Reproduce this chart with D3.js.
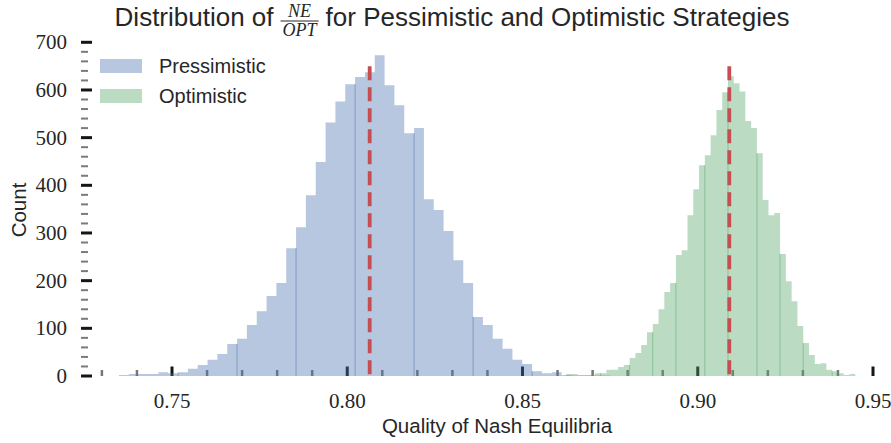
<!DOCTYPE html>
<html>
<head>
<meta charset="utf-8">
<script src="https://cdn.jsdelivr.net/npm/d3@7"></script>
<style>
  body { margin: 0; background: #fff; }
  svg { display: block; }
</style>
</head>
<body>
<svg id="chart"></svg>
<script>
// Histogram counts (50 bins each)
const pessCounts = [2, 4, 4, 4, 8, 6, 8, 15, 23, 34, 46, 67, 78, 107, 136, 168, 195, 268, 312, 379,
  449, 532, 576, 612, 627, 637, 673, 610, 568, 509, 520, 371, 348, 304, 243, 195, 124, 107, 78, 57,
  34, 25, 10, 6, 8, 2, 1, 1, 1, 1];
const optCounts = [4, 4, 2, 2, 2, 6, 6, 13, 13, 19, 23, 38, 48, 65, 92, 109, 140, 176, 195, 254,
  264, 337, 392, 442, 463, 505, 558, 595, 629, 614, 597, 535, 520, 467, 369, 337, 342, 256, 199, 157,
  105, 69, 44, 25, 27, 13, 10, 6, 2, 4];

// Bin edges
const pessBinStart = 0.73489, pessBinWidth = 0.002806;
const optBinStart = 0.8624, optBinWidth = 0.001651;

// Mean markers
const meanValues = [0.8064, 0.909];
const meanLineTop = 650;

// Tick values and labels
const xMajorTicks = [0.75, 0.80, 0.85, 0.90, 0.95];
const xTickLabels = ["0.75", "0.80", "0.85", "0.90", "0.95"];
const yMajorTicks = [0, 100, 200, 300, 400, 500, 600, 700];
const seriesNames = ["Pressimistic", "Optimistic"];

// bin edges where faint seam lines show in the bars
const pessSeams = [6, 12, 18, 24, 30, 36, 42];
const optSeams = [6, 11, 15, 19, 24, 28, 33, 37, 41, 46];

const width = 891, height = 443;
const blue = "#4c72b0", green = "#55a868", red = "#c44e52", ink = "#262626";

const svg = d3.select("#chart").attr("width", width).attr("height", height);

const x = d3.scaleLinear().domain([0.75, 0.95]).range([172, 873]);
const y = d3.scaleLinear().domain([0, 700]).range([376, 42.3]);

// Minor ticks (every 0.01 on x, every 20 on y)
const xMinor = d3.range(73, 95).map((v) => v / 100).filter((v) => !xMajorTicks.some((m) => Math.abs(m - v) < 1e-6));
const yMinor = d3.range(0, 701, 20).filter((v) => v % 100 !== 0);

const ticks = svg.append("g");
ticks.selectAll(".xminor").data(xMinor).enter().append("line")
  .attr("x1", (d) => x(d)).attr("x2", (d) => x(d))
  .attr("y1", y(0)).attr("y2", y(0) - 6)
  .attr("stroke", "#777").attr("stroke-width", 2.5);
ticks.selectAll(".xmajor").data(xMajorTicks).enter().append("line")
  .attr("x1", (d) => x(d)).attr("x2", (d) => x(d))
  .attr("y1", y(0)).attr("y2", y(0) - 9.5)
  .attr("stroke", "#151515").attr("stroke-width", 3);
ticks.selectAll(".yminor").data(yMinor).enter().append("line")
  .attr("x1", 81).attr("x2", 88)
  .attr("y1", (d) => y(d)).attr("y2", (d) => y(d))
  .attr("stroke", "#7a7a7a").attr("stroke-width", 2);
ticks.selectAll(".ymajor").data(yMajorTicks).enter().append("line")
  .attr("x1", 81).attr("x2", 92)
  .attr("y1", (d) => y(d)).attr("y2", (d) => y(d))
  .attr("stroke", "#151515").attr("stroke-width", 3);

// Tick labels
svg.append("g").selectAll("text").data(xMajorTicks).enter().append("text")
  .attr("x", (d) => x(d)).attr("y", 408)
  .attr("text-anchor", "middle")
  .style("font-family", "'Liberation Serif', serif").style("font-size", "21px")
  .attr("fill", ink)
  .text((d, i) => xTickLabels[i]);
svg.append("g").selectAll("text").data(yMajorTicks).enter().append("text")
  .attr("x", 67).attr("y", (d) => y(d))
  .attr("dy", "0.33em")
  .attr("text-anchor", "end")
  .style("font-family", "'Liberation Serif', serif").style("font-size", "21px")
  .attr("fill", ink)
  .text((d) => d);

// Histograms drawn as step areas
function histPoints(counts, start, w) {
  const pts = counts.map((c, i) => [start + i * w, c]);
  pts.push([start + counts.length * w, counts[counts.length - 1]]);
  return pts;
}
const area = d3.area()
  .x((d) => x(d[0]))
  .y0(y(0))
  .y1((d) => y(d[1]))
  .curve(d3.curveStepAfter);

const series = [
  { counts: pessCounts, start: pessBinStart, w: pessBinWidth, color: blue, seams: pessSeams },
  { counts: optCounts, start: optBinStart, w: optBinWidth, color: green, seams: optSeams }
];

series.forEach((s) => {
  svg.append("path")
    .datum(histPoints(s.counts, s.start, s.w))
    .attr("d", area)
    .attr("fill", s.color)
    .attr("fill-opacity", 0.4);
  svg.append("g").selectAll("line").data(s.seams).enter().append("line")
    .attr("x1", (i) => x(s.start + i * s.w)).attr("x2", (i) => x(s.start + i * s.w))
    .attr("y1", y(0))
    .attr("y2", (i) => y(Math.min(s.counts[i - 1], s.counts[i])))
    .attr("stroke", s.color).attr("stroke-opacity", 0.5).attr("stroke-width", 1);
});

// Mean lines
svg.append("g").selectAll("line").data(meanValues).enter().append("line")
  .attr("x1", (d) => x(d)).attr("x2", (d) => x(d))
  .attr("y1", y(meanLineTop)).attr("y2", y(0))
  .attr("stroke", red).attr("stroke-width", 3.8)
  .attr("stroke-dasharray", "14,7");

// Legend
const legend = svg.append("g");
seriesNames.forEach((name, i) => {
  legend.append("rect")
    .attr("x", 100).attr("y", 59 + i * 30)
    .attr("width", 42).attr("height", 14)
    .attr("fill", i === 0 ? blue : green).attr("fill-opacity", 0.4);
  legend.append("text")
    .attr("x", 159).attr("y", 73 + i * 30)
    .style("font-family", "'Liberation Sans', Arial, sans-serif").style("font-size", "20px")
    .attr("fill", ink)
    .text(name);
});

// Axis labels
svg.append("text")
  .attr("x", 497).attr("y", 433)
  .attr("text-anchor", "middle")
  .style("font-family", "'Liberation Sans', Arial, sans-serif").style("font-size", "20.5px")
  .attr("fill", ink)
  .text("Quality of Nash Equilibria");
svg.append("text")
  .attr("transform", "translate(26,210) rotate(-90)")
  .attr("text-anchor", "middle")
  .style("font-family", "'Liberation Sans', Arial, sans-serif").style("font-size", "20.5px")
  .attr("fill", ink)
  .text("Count");

// Title with NE/OPT fraction
const title = svg.append("g");
const titleFont = "'Liberation Sans', Arial, sans-serif";
const baseY = 26;
const t1 = title.append("text").attr("y", baseY)
  .style("font-family", titleFont).style("font-size", "26px").attr("fill", ink)
  .text("Distribution of");
const num = title.append("text").attr("y", 17).attr("text-anchor", "middle")
  .style("font-family", "'Liberation Serif', serif").style("font-style", "italic")
  .style("font-size", "18px").attr("fill", ink).text("NE");
const den = title.append("text").attr("y", 36).attr("text-anchor", "middle")
  .style("font-family", "'Liberation Serif', serif").style("font-style", "italic")
  .style("font-size", "18px").attr("fill", ink).text("OPT");
const bar = title.append("line").attr("y1", 21).attr("y2", 21)
  .attr("stroke", ink).attr("stroke-width", 1);
const t2 = title.append("text").attr("y", baseY)
  .style("font-family", titleFont).style("font-size", "26px").attr("fill", ink)
  .text("for Pessimistic and Optimistic Strategies");

const w1 = t1.node().getComputedTextLength();
const wf = Math.max(num.node().getComputedTextLength(), den.node().getComputedTextLength()) + 4;
const w2 = t2.node().getComputedTextLength();
const gap = 7;
const total = w1 + gap + wf + gap + w2;
const left = 452 - total / 2;
t1.attr("x", left);
num.attr("x", left + w1 + gap + wf / 2);
den.attr("x", left + w1 + gap + wf / 2);
bar.attr("x1", left + w1 + gap).attr("x2", left + w1 + gap + wf);
t2.attr("x", left + w1 + gap + wf + gap);
</script>
</body>
</html>
